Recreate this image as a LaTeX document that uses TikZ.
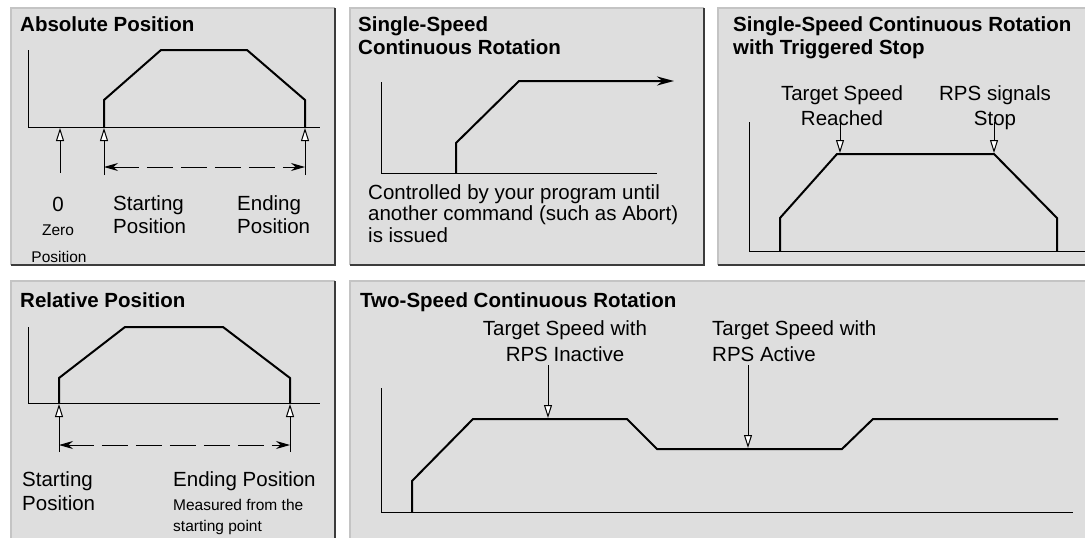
\documentclass[tikz,border=0pt]{standalone}
\usepackage{fontspec}
\setmainfont{Liberation Sans}
\usetikzlibrary{arrows.meta}
\definecolor{panelfill}{HTML}{DEDEDE}
\definecolor{panellight}{HTML}{C4C4C4}
\definecolor{paneldark}{HTML}{3C3C3C}
\newcommand\mypanel[4]{%
  \fill[panelfill] (#1,#2) rectangle (#3,#4);
  \draw[panellight, line width=2pt] (#1,#4) -- (#1,#2) -- (#3,#2);
  \draw[paneldark, line width=2pt] (#3,#2) -- (#3,#4) -- (#1,#4);
}
\tikzset{
  lbl/.style={font=\fontsize{20.5}{24}\selectfont, inner sep=0pt},
  ttl/.style={font=\bfseries\fontsize{20.5}{24}\selectfont, inner sep=0pt, anchor=base west},
  sml/.style={font=\fontsize{15.5}{18}\selectfont, inner sep=0pt},
  axisline/.style={line width=1pt},
  curve/.style={line width=2pt, line join=miter},
  ptr/.style={line width=1pt, -{Triangle[length=13pt,width=8pt,fill=white]}},
  spanarrow/.style={line width=1pt, dash pattern=on 26pt off 8pt,
    {Stealth[length=14pt,width=8pt]}-{Stealth[length=14pt,width=8pt]}},
}
\begin{document}
\begin{tikzpicture}[x=1pt,y=-1pt]
\useasboundingbox (0,0) rectangle (1085,538);
\clip (0,0) rectangle (1085,538);
\fill[white] (0,0) rectangle (1085,538);
% panels
\mypanel{11}{8}{335}{265}
\mypanel{350}{8}{704}{265}
\mypanel{718}{8}{1100}{265}
\mypanel{11}{281}{335}{550}
\mypanel{350}{281}{1100}{550}

% ---------- Panel 1: Absolute Position ----------
\node[ttl] (t1) at (20,31) {Absolute Position};
\coordinate (p1top) at (28,50);
\coordinate (p1o) at (28,127);
\coordinate (p1end) at (320,127);
\draw[axisline] (p1top) -- (p1o) -- (p1end);
\draw[curve] (104,127) -- (104,100) -- (161,50) -- (247,50) -- (305,100) -- (305,127);
\coordinate (z1a) at (60,173);  \coordinate (z1b) at (60,128);
\coordinate (s1a) at (104,175); \coordinate (s1b) at (104,128);
\coordinate (e1a) at (305,175); \coordinate (e1b) at (305,128);
\draw[ptr] (z1a) -- (z1b);
\draw[ptr] (s1a) -- (s1b);
\draw[ptr] (e1a) -- (e1b);
\coordinate (sp1a) at (104,167); \coordinate (sp1b) at (305,167);
\draw[spanarrow] (sp1a) -- (sp1b);
\node[lbl, anchor=base] (zero) at (58,211) {0};
\node[sml, anchor=base] (zero2) at (58,235) {Zero};
\node[sml, anchor=base] (zero3) at (59,262) {Position};
\node[lbl, anchor=base west] (st1) at (113,210) {Starting};
\node[lbl, anchor=base west] (st2) at (113,233) {Position};
\node[lbl, anchor=base west] (en1) at (237,210) {Ending};
\node[lbl, anchor=base west] (en2) at (237,233) {Position};

% ---------- Panel 2: Single-Speed Continuous Rotation ----------
\node[ttl] (t2a) at (358,31) {Single-Speed};
\node[ttl] (t2b) at (358,54) {Continuous Rotation};
\coordinate (p2top) at (381,82);
\coordinate (p2o) at (381,173);
\coordinate (p2end) at (657,173);
\draw[axisline] (p2top) -- (p2o) -- (p2end);
\draw[curve, -{Stealth[length=17pt,width=9pt]}] (456,173) -- (456,143) -- (519,81) -- (674,81);
\node[lbl, anchor=base west] (c1) at (368,199) {Controlled by your program until};
\node[lbl, anchor=base west] (c2) at (368,220) {another command (such as Abort)};
\node[lbl, anchor=base west] (c3) at (368,242) {is issued};

% ---------- Panel 3: Triggered Stop ----------
\node[ttl] (t3a) at (733,31) {Single-Speed Continuous Rotation};
\node[ttl] (t3b) at (733,54) {with Triggered Stop};
\coordinate (p3top) at (749,122);
\coordinate (p3o) at (749,251);
\coordinate (p3end) at (1090,251);
\draw[axisline] (p3top) -- (p3o) -- (p3end);
\draw[curve] (780,251) -- (780,218) -- (837,154) -- (994,154) -- (1057,218) -- (1057,251);
\node[lbl, anchor=base] (ts1) at (842,100) {Target Speed};
\node[lbl, anchor=base] (ts2) at (842,125) {Reached};
\node[lbl, anchor=base] (rp1) at (995,100) {RPS signals};
\node[lbl, anchor=base] (rp2) at (995,125) {Stop};
\coordinate (ts3a) at (840,122); \coordinate (ts3b) at (840,153);
\coordinate (rp3a) at (994,122); \coordinate (rp3b) at (994,153);
\draw[ptr] (ts3a) -- (ts3b);
\draw[ptr] (rp3a) -- (rp3b);

% ---------- Panel 4: Relative Position ----------
\node[ttl] (t4) at (20,307) {Relative Position};
\coordinate (p4top) at (28,327);
\coordinate (p4o) at (28,403);
\coordinate (p4end) at (320,403);
\draw[axisline] (p4top) -- (p4o) -- (p4end);
\draw[curve] (59,403) -- (59,378) -- (125,327) -- (223,327) -- (290,378) -- (290,403);
\coordinate (s4a) at (59,452); \coordinate (s4b) at (59,404);
\coordinate (e4a) at (290,452); \coordinate (e4b) at (290,404);
\draw[ptr] (s4a) -- (s4b);
\draw[ptr] (e4a) -- (e4b);
\coordinate (sp4a) at (59,445); \coordinate (sp4b) at (290,445);
\draw[spanarrow] (sp4a) -- (sp4b);
\node[lbl, anchor=base west] (st4a) at (22,486) {Starting};
\node[lbl, anchor=base west] (st4b) at (22,510) {Position};
\node[lbl, anchor=base west] (en4) at (173,486) {Ending Position};
\node[sml, anchor=base west] (ms1) at (173,510) {Measured from the};
\node[sml, anchor=base west] (ms2) at (173,531) {starting point};

% ---------- Panel 5: Two-Speed Continuous Rotation ----------
\node[ttl] (t5) at (360,307) {Two-Speed Continuous Rotation};
\coordinate (p5top) at (381,388);
\coordinate (p5o) at (381,512);
\coordinate (p5end) at (1073,512);
\draw[axisline] (p5top) -- (p5o) -- (p5end);
\draw[curve] (412,512) -- (412,481) -- (473,419) -- (627,419) -- (657,449) -- (842,449) -- (873,419) -- (1058,419);
\node[lbl, anchor=base] (in1) at (565,335) {Target Speed with};
\node[lbl, anchor=base] (in2) at (565,361) {RPS Inactive};
\node[lbl, anchor=base west] (ac1) at (712,335) {Target Speed with};
\node[lbl, anchor=base west] (ac2) at (712,361) {RPS Active};
\coordinate (in3a) at (548,365); \coordinate (in3b) at (548,418);
\coordinate (ac3a) at (748,365); \coordinate (ac3b) at (748,448);
\draw[ptr] (in3a) -- (in3b);
\draw[ptr] (ac3a) -- (ac3b);
\end{tikzpicture}
\end{document}
